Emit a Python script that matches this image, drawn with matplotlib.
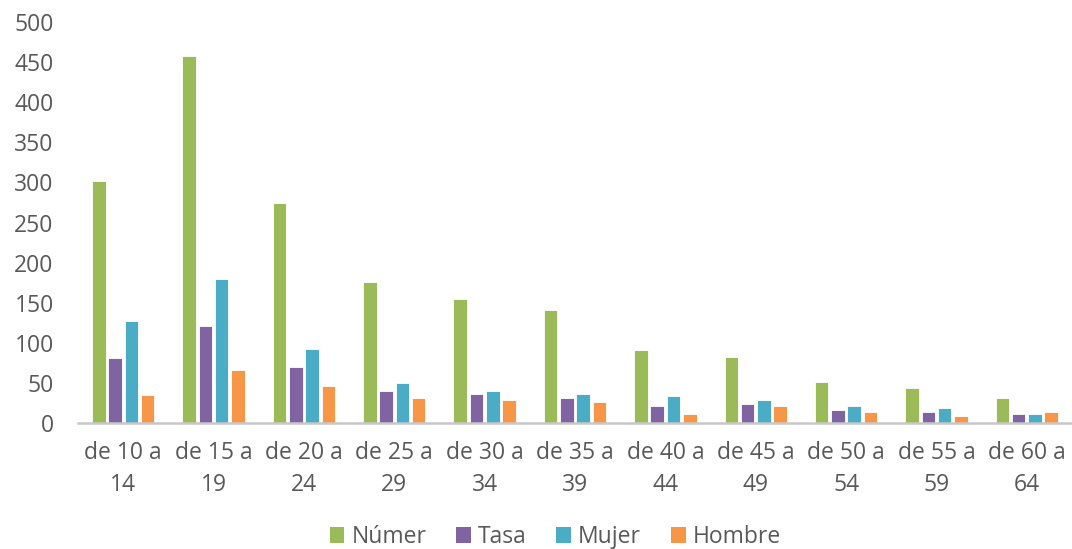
import numpy as np
import matplotlib
matplotlib.use("Agg")
import matplotlib.pyplot as plt
from matplotlib.patches import Patch

categories = ["de 10 a\n14", "de 15 a\n19", "de 20 a\n24", "de 25 a\n29", "de 30 a\n34",
              "de 35 a\n39", "de 40 a\n44", "de 45 a\n49", "de 50 a\n54", "de 55 a\n59",
              "de 60 a\n64"]
numer = [302, 458, 274, 176, 155, 141, 91, 82, 52, 44, 32]
tasa = [81, 121, 70, 40, 36, 31, 22, 24, 17, 14, 12]
mujer = [128, 180, 92, 50, 40, 37, 34, 29, 21, 19, 11]
hombre = [35, 66, 47, 32, 29, 26, 11, 21, 14, 9, 14]
series_names = ["Númer", "Tasa", "Mujer", "Hombre"]
colors = ["#9BBB59", "#8064A2", "#4BACC6", "#F79646"]

plt.rcParams["font.family"] = ["Open Sans", "DejaVu Sans"]
txt = "#595959"
fs = 16.5

fig = plt.figure(figsize=(10.72, 5.49), dpi=100)
ax = fig.add_axes([0.0728, 0.229, 0.9272, 0.731])

x = np.arange(len(categories))
slot = 0.18
w = 0.15
for i, (vals, c) in enumerate(zip([numer, tasa, mujer, hombre], colors)):
    ax.bar(x + (i - 1.5) * slot, vals, width=w, color=c, edgecolor="white", linewidth=0.6)

ax.set_xlim(-0.5, len(categories) - 0.5)
ax.set_ylim(0, 500)
ax.set_yticks(range(0, 501, 50))
ax.set_xticks(x)
ax.set_xticklabels(categories, fontsize=fs, color=txt, linespacing=1.45)
ax.tick_params(axis="y", labelsize=fs, labelcolor=txt, length=0, pad=17.5)
ax.tick_params(axis="x", length=0, pad=13)
for s in ["top", "right", "left"]:
    ax.spines[s].set_visible(False)
ax.spines["bottom"].set_color("#C8C8C8")
ax.spines["bottom"].set_linewidth(1.8)

handles = [Patch(facecolor=c, edgecolor="none") for c in colors]
fig.legend(handles, series_names, loc="center", bbox_to_anchor=(0.518, 0.022), ncol=4,
           frameon=False, fontsize=fs, handlelength=0.65, handleheight=0.65,
           handletextpad=0.3, columnspacing=1.3, labelcolor=txt)

fig.savefig("out.png", dpi=100)
